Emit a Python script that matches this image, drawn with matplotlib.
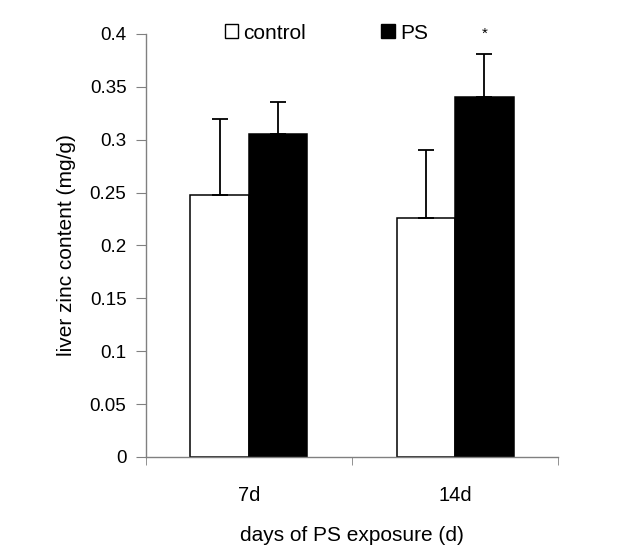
import matplotlib
matplotlib.use("Agg")
import matplotlib.pyplot as plt
from matplotlib.patches import Patch
import numpy as np

categories = ["7d", "14d"]
control = [0.248, 0.226]
control_err = [0.072, 0.064]
ps = [0.305, 0.340]
ps_err = [0.031, 0.041]
yticks = [0, 0.05, 0.1, 0.15, 0.2, 0.25, 0.3, 0.35, 0.4]
ytick_labels = ["0", "0.05", "0.1", "0.15", "0.2", "0.25", "0.3", "0.35", "0.4"]

plt.rcParams['font.family'] = ['Liberation Sans', 'DejaVu Sans']

fig = plt.figure(figsize=(6.4, 5.53), dpi=100)
ax = fig.add_axes([0.228, 0.1736, 0.644, 0.765])

x = np.arange(len(categories))
w = 0.284
ekw = dict(ecolor="black", elinewidth=1.3, capthick=1.3)
ax.bar(x - w/2, control, w, color="white", edgecolor="black", linewidth=1.1,
       yerr=[np.zeros(len(control)), control_err], capsize=5.5, error_kw=ekw, zorder=2)
ax.bar(x + w/2, ps, w, color="black", edgecolor="black", linewidth=1.1,
       yerr=[np.zeros(len(ps)), ps_err], capsize=5.5, error_kw=ekw, zorder=2)

# significance star
ax.text(x[1] + w/2, ps[1] + ps_err[1] + 0.013, "*", ha="center", va="bottom", fontsize=11)

ax.set_xlim(-0.5, 1.5)
ax.set_ylim(0, 0.4)
ax.set_yticks(yticks)
ax.set_yticklabels(ytick_labels, fontsize=13.5)
ax.set_xticks(x)
ax.set_xticklabels(categories, fontsize=14.5)
ax.set_xticks([-0.5, 0.5, 1.5], minor=True)
ax.tick_params(axis="x", which="major", length=0, pad=21)
ax.tick_params(axis="x", which="minor", length=6, direction="out", color="#808080")
ax.tick_params(axis="y", length=7, direction="out", color="#808080", pad=7)

for s in ["top", "right"]:
    ax.spines[s].set_visible(False)
for s in ["left", "bottom"]:
    ax.spines[s].set_color("#808080")
    ax.spines[s].set_linewidth(1)

ax.set_ylabel("liver zinc content (mg/g)", fontsize=15, labelpad=10)
ax.set_xlabel("days of PS exposure (d)", fontsize=15, labelpad=15)

handles = [Patch(facecolor="white", edgecolor="black", linewidth=1),
           Patch(facecolor="black", edgecolor="black", linewidth=1)]
fig.legend(handles, ["control", "PS"], loc="center", bbox_to_anchor=(0.51, 0.94),
           ncol=2, frameon=False, fontsize=15, handlelength=0.65, handleheight=0.65,
           handletextpad=0.25, columnspacing=3.6)

fig.savefig("out.png", dpi=100)
